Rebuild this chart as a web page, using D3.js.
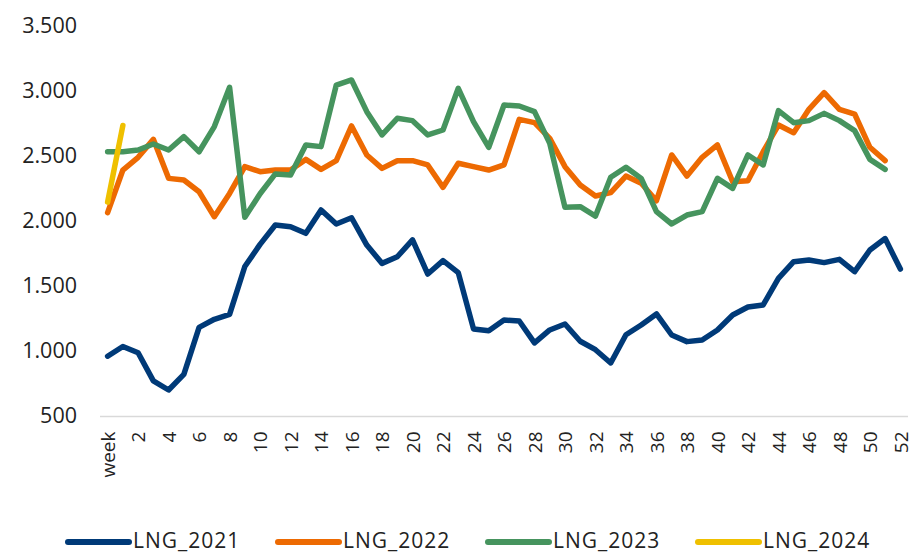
<!DOCTYPE html>
<html>
<head>
<meta charset="utf-8">
<script src="https://cdn.jsdelivr.net/npm/d3@7"></script>
<style>
  html, body { margin: 0; padding: 0; background: #fff; }
  svg { display: block; }
  text { font-family: "Open Sans", "DejaVu Sans", sans-serif; fill: #222; }
</style>
</head>
<body>
<svg id="chart" width="913" height="555"></svg>
<script>
const weeks = ["week","1","2","3","4","5","6","7","8","9","10","11","12","13","14","15","16","17","18","19","20","21","22","23","24","25","26","27","28","29","30","31","32","33","34","35","36","37","38","39","40","41","42","43","44","45","46","47","48","49","50","51","52"];
const tickLabels = ["week","2","4","6","8","10","12","14","16","18","20","22","24","26","28","30","32","34","36","38","40","42","44","46","48","50","52"];
const yTicks = [500, 1000, 1500, 2000, 2500, 3000, 3500];

const lng2021 = [960,1035,987,770,700,820,1182,1244,1282,1650,1820,1969,1956,1905,2085,1977,2025,1815,1674,1725,1855,1592,1695,1603,1170,1156,1238,1231,1062,1162,1208,1075,1010,908,1125,1200,1285,1123,1072,1085,1162,1277,1338,1354,1559,1687,1700,1680,1705,1610,1777,1865,1630];
const lng2022 = [2064,2392,2490,2628,2328,2315,2225,2033,2212,2418,2379,2392,2392,2474,2397,2464,2731,2508,2405,2464,2464,2431,2259,2444,2418,2392,2431,2782,2757,2636,2418,2277,2192,2218,2346,2290,2156,2508,2346,2490,2585,2302,2310,2533,2738,2679,2859,2987,2859,2823,2567,2464];
const lng2023 = [2533,2533,2546,2592,2546,2649,2533,2726,3028,2028,2210,2362,2354,2585,2572,3046,3085,2841,2662,2790,2772,2662,2700,3021,2764,2567,2892,2885,2841,2597,2105,2110,2038,2336,2413,2328,2072,1977,2046,2072,2328,2251,2508,2431,2849,2756,2772,2828,2772,2695,2474,2397];
const lng2024 = [2145,2735];

const seriesNames = ["LNG_2021","LNG_2022","LNG_2023","LNG_2024"];
const seriesColors = ["#003A78","#ED6A02","#46945E","#EFC000"];
const seriesValues = [lng2021, lng2022, lng2023, lng2024];

const svg = d3.select("#chart");

const x = d3.scalePoint().domain(weeks).range([100, 908]).padding(0.5);
const y = d3.scaleLinear().domain([500, 3500]).range([416, 26]);

// Y axis labels (no line)
const yAxis = svg.append("g").attr("transform", "translate(77,0)")
  .call(d3.axisLeft(y).tickValues(yTicks).tickSize(0).tickPadding(0)
    .tickFormat(d => d3.format(",")(d).replace(/,/g, ".")));
yAxis.select(".domain").remove();
yAxis.selectAll("text").style("font-family", "'Open Sans', sans-serif").style("font-size", "21.5px").attr("fill", "#222");

// X axis
const xAxis = svg.append("g").attr("transform", "translate(0,416.5)")
  .call(d3.axisBottom(x).tickValues(tickLabels).tickSize(0).tickPadding(0));
xAxis.select(".domain").attr("d", "M100,0H908").attr("stroke", "#d9d9d9").attr("stroke-width", 1.5);
xAxis.selectAll("text")
  .style("font-family", "'Open Sans', sans-serif").style("font-size", "19px").attr("fill", "#222")
  .attr("text-anchor", "end")
  .attr("transform", "rotate(-90)")
  .attr("x", -15).attr("y", 0).attr("dy", "0.35em");

// Lines
const line = d3.line().x((d, i) => x(weeks[i])).y(d => y(d));
seriesValues.forEach((vals, k) => {
  svg.append("path").datum(vals)
    .attr("fill", "none")
    .attr("stroke", seriesColors[k])
    .attr("stroke-width", 5.5)
    .attr("stroke-linejoin", "round")
    .attr("stroke-linecap", "round")
    .attr("d", line);
});

// Legend
const legendX = [66, 276, 486, 696];
const lg = svg.append("g");
seriesNames.forEach((name, k) => {
  const g = lg.append("g").attr("transform", `translate(${legendX[k]},540)`);
  g.append("line").attr("x1", 2).attr("x2", 63).attr("y1", 2).attr("y2", 2)
    .attr("stroke", seriesColors[k]).attr("stroke-width", 6).attr("stroke-linecap", "round");
  g.append("text").attr("x", 67).attr("y", 0).attr("dy", "0.36em")
    .style("font-size", "21px").style("letter-spacing", "1px").text(name);
});
</script>
</body>
</html>
